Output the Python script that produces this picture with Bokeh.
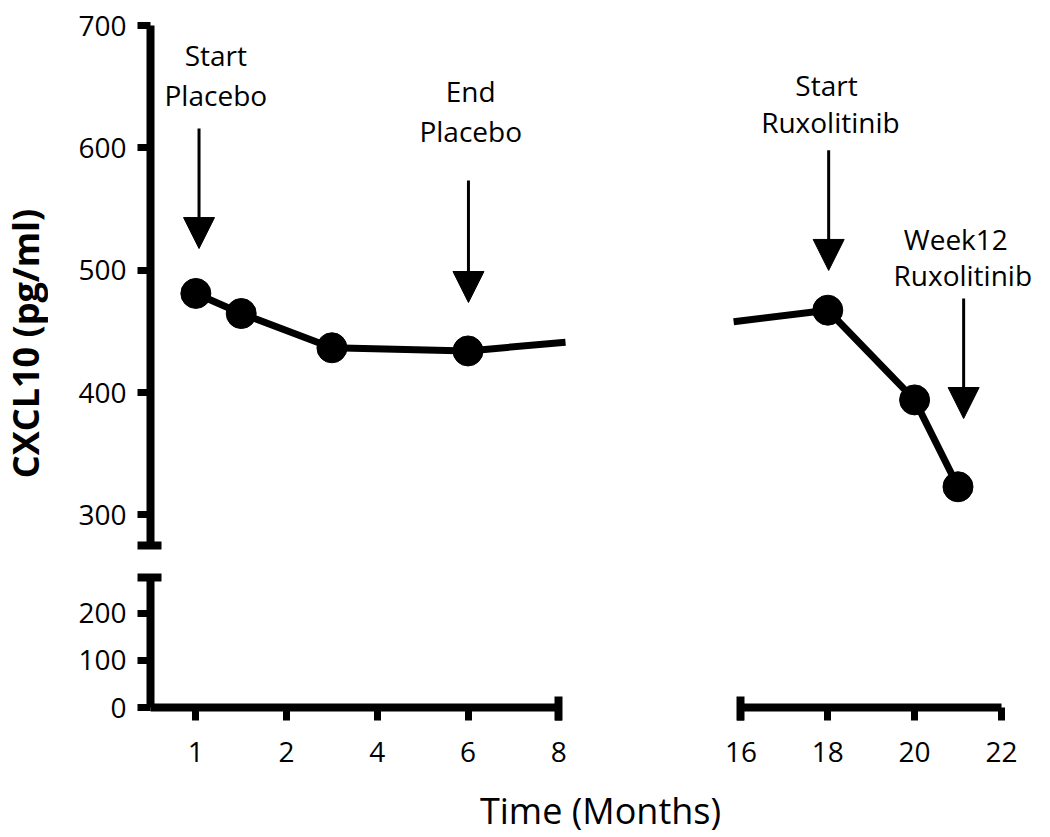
import math
from bokeh.plotting import figure
from bokeh.layouts import row, column
from bokeh.models import (FixedTicker, Arrow, NormalHead, Label, ColumnDataSource,
                          Range1d)
from bokeh.core.properties import value
from bokeh.embed import file_html
from bokeh.resources import INLINE

# ---------------- data ----------------
# left segment (placebo period); x positions on the axis, tick "1" sits at 0
left_tick_pos = [0, 2, 4, 6, 8]
left_tick_labels = ["1", "2", "4", "6", "8"]
left_pts_x = [0, 1, 3, 6]
left_pts_y = [481, 464.6, 436.6, 434]
left_line_x = [0, 1, 3, 6, 8.15]
left_line_y = [481, 464.6, 436.6, 434, 441.2]

# right segment (ruxolitinib period)
right_tick_pos = [16, 18, 20, 22]
right_tick_labels = ["16", "18", "20", "22"]
right_pts_x = [18, 20, 21]
right_pts_y = [467.3, 394, 323]
right_line_x = [15.83, 18, 20, 21]
right_line_y = [457.8, 467.3, 394, 323]

upper_y_ticks = [300, 400, 500, 600, 700]
lower_y_ticks = [0, 100, 200]
break_value = 275

# annotations
left_ann_text = ["Start", "Placebo", "End", "Placebo"]
left_ann_x = [0.44, 0.44, 6.06, 6.06]
left_ann_y = [675.5, 642.8, 646.1, 613.4]
left_arrow_x = [0.07, 6.01]
left_arrow_y0 = [615.8, 573.3]
left_arrow_y1 = [517.7, 473.6]

right_ann_text = ["Start", "Ruxolitinib", "Week12", "Ruxolitinib"]
right_ann_x = [17.97, 18.06, 20.95, 21.11]
right_ann_y = [651.0, 621.5, 525.9, 495.7]
right_arrow_x = [18.02, 21.13]
right_arrow_y0 = [598.0, 476.9]
right_arrow_y1 = [499.8, 378.8]

y_label = "CXCL10 (pg/ml)"
x_label = "Time (Months)"

FONT = "Open Sans"
common = dict(toolbar_location=None, output_backend="svg", title=None,
              outline_line_color=None, background_fill_color="white",
              border_fill_color="white")


def style_axis(ax, ticks, minor, bounds=None, standoff=11):
    ax.ticker = FixedTicker(ticks=ticks, minor_ticks=minor)
    ax.axis_line_width = 8
    ax.axis_line_color = "black"
    ax.major_tick_line_width = 7
    ax.major_tick_line_color = "black"
    ax.major_tick_in = 0
    ax.major_tick_out = 13
    ax.minor_tick_line_width = 8
    ax.minor_tick_line_color = "black"
    ax.minor_tick_in = 11
    ax.minor_tick_out = 13
    ax.major_label_text_font = FONT
    ax.major_label_text_font_size = "28px"
    ax.major_label_text_color = "black"
    ax.major_label_standoff = standoff
    if bounds is not None:
        ax.bounds = bounds


# ---------------- upper-left panel ----------------
A = figure(width=592, height=561, x_range=Range1d(-1, 8.37), y_range=Range1d(break_value, 700),
           min_border_left=102, min_border_right=65, min_border_top=25, min_border_bottom=16,
           x_axis_location=None, **common)
A.grid.visible = False
style_axis(A.yaxis[0], upper_y_ticks, [break_value])

A.line(left_line_x, left_line_y, line_width=7, line_color="black")
A.scatter(left_pts_x, left_pts_y, size=30, fill_color="black", line_color="black")
A.text(x=left_ann_x, y=left_ann_y, text=left_ann_text, text_font=value(FONT),
       text_font_size="28px", text_align="center", text_baseline="middle", text_color="black")
src_la = ColumnDataSource(dict(x=left_arrow_x, y0=left_arrow_y0, y1=left_arrow_y1))
A.add_layout(Arrow(end=NormalHead(size=31, fill_color="black", line_color="black"),
                   x_start="x", y_start="y0", x_end="x", y_end="y1", source=src_la,
                   line_width=3, line_color="black"))

# ---------------- lower-left panel ----------------
B = figure(width=592, height=209, x_range=Range1d(-1, 8.37), y_range=Range1d(0, 276),
           min_border_left=102, min_border_right=65, min_border_top=16, min_border_bottom=63,
           **common)
B.grid.visible = False
style_axis(B.yaxis[0], lower_y_ticks, [break_value])
style_axis(B.xaxis[0], left_tick_pos, [8], bounds=(-1, 8), standoff=21)
B.xaxis[0].major_label_overrides = dict(zip(left_tick_pos, left_tick_labels))

# ---------------- right panel ----------------
C = figure(width=402, height=770, x_range=Range1d(15.643, 22.947), y_range=Range1d(142.6, 700),
           min_border_left=85, min_border_right=0, min_border_top=25, min_border_bottom=63,
           y_axis_location=None, **common)
C.grid.visible = False
style_axis(C.xaxis[0], right_tick_pos, [16], bounds=(16, 22), standoff=21)
C.xaxis[0].major_label_overrides = dict(zip(right_tick_pos, right_tick_labels))

C.line(right_line_x, right_line_y, line_width=7, line_color="black")
C.scatter(right_pts_x, right_pts_y, size=30, fill_color="black", line_color="black")
C.text(x=right_ann_x, y=right_ann_y, text=right_ann_text, text_font=value(FONT),
       text_font_size="28px", text_align="center", text_baseline="middle", text_color="black")
src_ra = ColumnDataSource(dict(x=right_arrow_x, y0=right_arrow_y0, y1=right_arrow_y1))
C.add_layout(Arrow(end=NormalHead(size=31, fill_color="black", line_color="black"),
                   x_start="x", y_start="y0", x_end="x", y_end="y1", source=src_ra,
                   line_width=3, line_color="black"))

# ---------------- y label strip ----------------
E = figure(width=48, height=770, x_range=Range1d(0, 48), y_range=Range1d(0, 770),
           min_border=0, x_axis_location=None, y_axis_location=None, **common)
E.grid.visible = False
E.add_layout(Label(x=24.5, y=411, text=y_label, angle=math.pi / 2, text_font=FONT,
                   text_font_size="36px", text_font_style="bold", text_align="center",
                   text_baseline="middle", text_color="black"))

# ---------------- x label strip ----------------
D = figure(width=1042, height=65, x_range=Range1d(0, 1042), y_range=Range1d(0, 65),
           min_border=0, x_axis_location=None, y_axis_location=None, **common)
D.grid.visible = False
D.add_layout(Label(x=600, y=25, text=x_label, text_font=FONT, text_font_size="36px",
                   text_align="center", text_baseline="middle", text_color="black"))

layout = column(row(E, column(A, B), C), D)

open("out.html", "w").write(file_html(layout, INLINE))
